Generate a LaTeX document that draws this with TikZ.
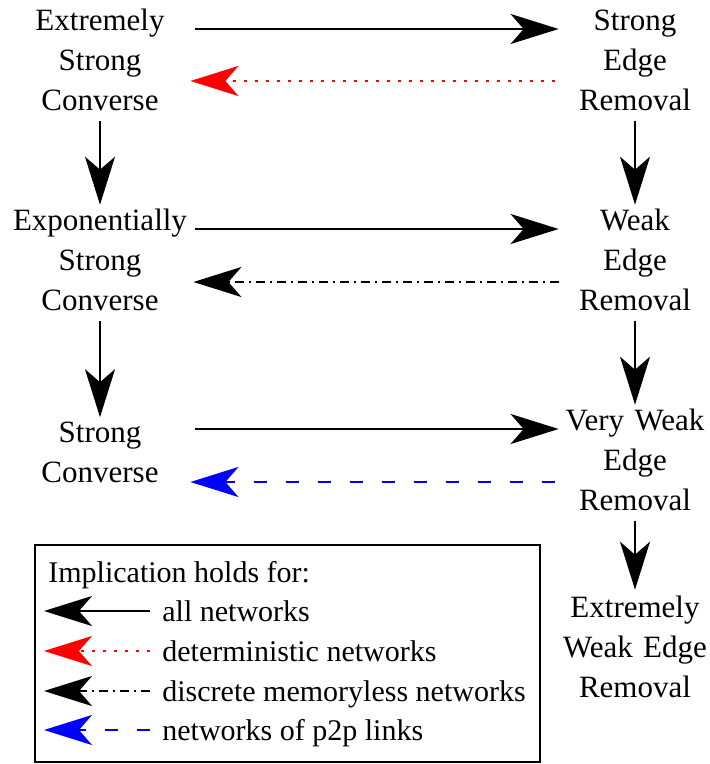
\documentclass[tikz,border=0pt]{standalone}
\usepackage{fontspec}
\setmainfont{Liberation Serif}
\usetikzlibrary{arrows.meta,positioning,calc}
\tikzset{
    impl/.style={-{Stealth[length=24pt,width=15pt,inset=6.5pt]},line width=1.2pt},
    dotimpl/.style={impl,red,dash pattern=on 1.5pt off 4pt},
    dashdotimpl/.style={impl,dash pattern=on 4.5pt off 2.5pt on 1pt off 2.5pt},
    dashimpl/.style={impl,blue,dash pattern=on 6.5pt off 9.5pt},
    cond/.style={font=\fontsize{15.5}{20}\selectfont,align=center,inner sep=0pt},
    leftcond/.style={cond,text width=90pt},
    rightcond/.style={cond,text width=76pt},
    legtext/.style={font=\fontsize{15}{20}\selectfont,inner sep=0pt,anchor=base west},
}
\begin{document}
\begin{tikzpicture}[x=0.5pt,y=-0.5pt]
    \useasboundingbox (0,0) rectangle (709,764);
    \node[leftcond] (esc) at (100,60) {Extremely\\Strong\\Converse};
    \node[rightcond] (ser) at (635,60) {Strong\\Edge\\Removal};
    \node[leftcond] (expsc) at (100,260) {Exponentially\\Strong\\Converse};
    \node[rightcond] (wer) at (635,260) {Weak\\Edge\\Removal};
    \node[leftcond] (sc) at (100,452) {Strong\\Converse};
    \node[rightcond] (vwer) at (635,460) {Very Weak\\Edge\\Removal};
    \node[rightcond] (ewer) at (635,647) {Extremely\\Weak Edge\\Removal};
    \draw[impl] ([xshift=2.5pt,yshift=15.5pt]esc.east) -- ([yshift=15.5pt]esc.east -| ser.west);
    \draw[dotimpl] ([xshift=-2pt,yshift=-10.5pt]esc.east -| ser.west) -- ([yshift=-10.5pt]esc.east);
    \draw[impl] ([xshift=2.5pt,yshift=15.5pt]expsc.east) -- ([yshift=15.5pt]expsc.east -| wer.west);
    \draw[dashdotimpl] ([yshift=-11pt]expsc.east -| wer.west) -- ([xshift=1.5pt,yshift=-11pt]expsc.east);
    \draw[impl] ([xshift=2.5pt,yshift=11.5pt]sc.east) -- ([yshift=11.5pt]sc.east -| vwer.west);
    \draw[dashimpl] ([xshift=-2pt,yshift=-15pt]sc.east -| vwer.west) -- ([yshift=-15pt]sc.east);
    \draw[impl,shorten <=5pt,shorten >=2pt] (esc) -- (expsc);
    \draw[impl,shorten <=5pt,shorten >=2pt] (expsc) -- (sc);
    \draw[impl,shorten <=5pt,shorten >=2pt] (ser) -- (wer);
    \draw[impl,shorten <=5pt,shorten >=2pt] (wer) -- (vwer);
    \draw[impl,shorten <=5pt,shorten >=3pt] (vwer) -- (ewer);
    \node[draw,line width=1pt,inner sep=0pt,minimum width=252.5pt,minimum height=108.5pt,anchor=north west] (legend) at (34,544) {};
    \node[legtext] (title) at (48,582) {Implication holds for:};
    \node[legtext] (lall) at (162,621) {all networks};
    \node[legtext] (ldet) at (162,661) {deterministic networks};
    \node[legtext] (ldm) at (162,701) {discrete memoryless networks};
    \node[legtext] (lp2p) at (162,740) {networks of p2p links};
    \draw[impl] ([xshift=-6pt,yshift=5pt]lall.base west) -- ([xshift=-59pt,yshift=5pt]lall.base west);
    \draw[dotimpl] ([xshift=-6pt,yshift=5pt]ldet.base west) -- ([xshift=-59pt,yshift=5pt]ldet.base west);
    \draw[dashdotimpl] ([xshift=-6pt,yshift=5pt]ldm.base west) -- ([xshift=-59pt,yshift=5pt]ldm.base west);
    \draw[dashimpl] ([xshift=-6pt,yshift=5pt]lp2p.base west) -- ([xshift=-59pt,yshift=5pt]lp2p.base west);
\end{tikzpicture}
\end{document}
